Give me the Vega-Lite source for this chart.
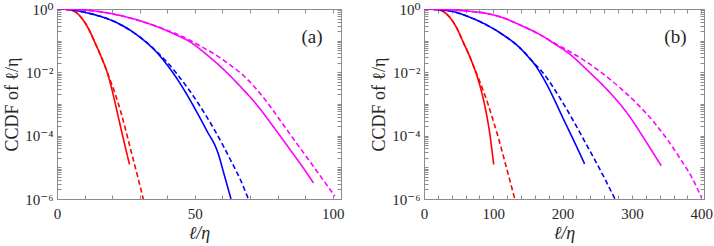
{
  "$schema": "https://vega.github.io/schema/vega-lite/v6.json",
  "padding": {"top": 1, "left": 3, "right": 4, "bottom": 0},
  "spacing": 25,
  "config": {
    "font": "Liberation Serif, DejaVu Serif, serif",
    "view": {"stroke": "#8c8c8c", "strokeWidth": 1},
    "axis": {"grid": false, "domainColor": "#8c8c8c", "tickColor": "#8c8c8c", "labelColor": "#262626", "titleColor": "#262626", "labelFont": "Liberation Serif, DejaVu Serif, serif", "titleFont": "Liberation Serif, DejaVu Serif, serif", "labelFontSize": 15, "titleFontSize": 18, "titleFontWeight": "normal", "labelFlush": false, "labelOverlap": false},
    "line": {"interpolate": "monotone", "strokeWidth": 1.6}
  },
  "datasets": {
    "curves": [
      {"panel":"a","color":"red","style":"solid","x":0,"y":1},
      {"panel":"a","color":"red","style":"solid","x":2,"y":0.99},
      {"panel":"a","color":"red","style":"solid","x":5.1,"y":0.933},
      {"panel":"a","color":"red","style":"solid","x":7.5,"y":0.708},
      {"panel":"a","color":"red","style":"solid","x":9.9,"y":0.398},
      {"panel":"a","color":"red","style":"solid","x":12,"y":0.19},
      {"panel":"a","color":"red","style":"solid","x":13.6,"y":0.0933},
      {"panel":"a","color":"red","style":"solid","x":15.5,"y":0.0398},
      {"panel":"a","color":"red","style":"solid","x":17.2,"y":0.0174},
      {"panel":"a","color":"red","style":"solid","x":18.2,"y":0.01},
      {"panel":"a","color":"red","style":"solid","x":19.2,"y":0.005},
      {"panel":"a","color":"red","style":"solid","x":20.5,"y":0.00178},
      {"panel":"a","color":"red","style":"solid","x":22.1,"y":4.37e-4},
      {"panel":"a","color":"red","style":"solid","x":24.2,"y":7.1e-5},
      {"panel":"a","color":"red","style":"solid","x":26.3,"y":1.23e-5},

      {"panel":"a","color":"red","style":"dashed","x":0,"y":1},
      {"panel":"a","color":"red","style":"dashed","x":2,"y":0.99},
      {"panel":"a","color":"red","style":"dashed","x":5.1,"y":0.933},
      {"panel":"a","color":"red","style":"dashed","x":7.5,"y":0.708},
      {"panel":"a","color":"red","style":"dashed","x":9.9,"y":0.398},
      {"panel":"a","color":"red","style":"dashed","x":12,"y":0.19},
      {"panel":"a","color":"red","style":"dashed","x":13.6,"y":0.0933},
      {"panel":"a","color":"red","style":"dashed","x":15.5,"y":0.0398},
      {"panel":"a","color":"red","style":"dashed","x":17.2,"y":0.0174},
      {"panel":"a","color":"red","style":"dashed","x":19,"y":0.0066},
      {"panel":"a","color":"red","style":"dashed","x":20.8,"y":0.00251},
      {"panel":"a","color":"red","style":"dashed","x":23.3,"y":5.0e-4},
      {"panel":"a","color":"red","style":"dashed","x":26.9,"y":3.16e-5},
      {"panel":"a","color":"red","style":"dashed","x":29,"y":6.3e-6},
      {"panel":"a","color":"red","style":"dashed","x":31.3,"y":1e-6},

      {"panel":"a","color":"blue","style":"solid","x":0,"y":1},
      {"panel":"a","color":"blue","style":"solid","x":5,"y":0.955},
      {"panel":"a","color":"blue","style":"solid","x":9.9,"y":0.794},
      {"panel":"a","color":"blue","style":"solid","x":16,"y":0.575},
      {"panel":"a","color":"blue","style":"solid","x":22.1,"y":0.355},
      {"panel":"a","color":"blue","style":"solid","x":26,"y":0.229},
      {"panel":"a","color":"blue","style":"solid","x":29.3,"y":0.145},
      {"panel":"a","color":"blue","style":"solid","x":33,"y":0.0794},
      {"panel":"a","color":"blue","style":"solid","x":36.3,"y":0.0417},
      {"panel":"a","color":"blue","style":"solid","x":39,"y":0.0219},
      {"panel":"a","color":"blue","style":"solid","x":42.1,"y":0.00955},
      {"panel":"a","color":"blue","style":"solid","x":45,"y":0.00398},
      {"panel":"a","color":"blue","style":"solid","x":48.1,"y":0.00141},
      {"panel":"a","color":"blue","style":"solid","x":51,"y":5.0e-4},
      {"panel":"a","color":"blue","style":"solid","x":54.2,"y":1.51e-4},
      {"panel":"a","color":"blue","style":"solid","x":58.4,"y":2.82e-5},
      {"panel":"a","color":"blue","style":"solid","x":60.7,"y":5.6e-6},
      {"panel":"a","color":"blue","style":"solid","x":63.1,"y":1e-6},

      {"panel":"a","color":"blue","style":"dashed","x":0,"y":1},
      {"panel":"a","color":"blue","style":"dashed","x":5,"y":0.955},
      {"panel":"a","color":"blue","style":"dashed","x":9.9,"y":0.794},
      {"panel":"a","color":"blue","style":"dashed","x":16,"y":0.575},
      {"panel":"a","color":"blue","style":"dashed","x":22.1,"y":0.355},
      {"panel":"a","color":"blue","style":"dashed","x":26,"y":0.229},
      {"panel":"a","color":"blue","style":"dashed","x":29.3,"y":0.145},
      {"panel":"a","color":"blue","style":"dashed","x":33,"y":0.0813},
      {"panel":"a","color":"blue","style":"dashed","x":36.3,"y":0.0437},
      {"panel":"a","color":"blue","style":"dashed","x":39.6,"y":0.0224},
      {"panel":"a","color":"blue","style":"dashed","x":44,"y":0.0079},
      {"panel":"a","color":"blue","style":"dashed","x":48.1,"y":0.00263},
      {"panel":"a","color":"blue","style":"dashed","x":51,"y":0.00112},
      {"panel":"a","color":"blue","style":"dashed","x":54.2,"y":4.07e-4},
      {"panel":"a","color":"blue","style":"dashed","x":57,"y":1.58e-4},
      {"panel":"a","color":"blue","style":"dashed","x":60.3,"y":4.79e-5},
      {"panel":"a","color":"blue","style":"dashed","x":63.3,"y":1.48e-5},
      {"panel":"a","color":"blue","style":"dashed","x":66.3,"y":4.47e-6},
      {"panel":"a","color":"blue","style":"dashed","x":69.4,"y":1e-6},

      {"panel":"a","color":"magenta","style":"solid","x":0,"y":1},
      {"panel":"a","color":"magenta","style":"solid","x":5,"y":0.985},
      {"panel":"a","color":"magenta","style":"solid","x":9.9,"y":0.933},
      {"panel":"a","color":"magenta","style":"solid","x":16,"y":0.81},
      {"panel":"a","color":"magenta","style":"solid","x":22.1,"y":0.646},
      {"panel":"a","color":"magenta","style":"solid","x":30,"y":0.427},
      {"panel":"a","color":"magenta","style":"solid","x":37.8,"y":0.245},
      {"panel":"a","color":"magenta","style":"solid","x":43,"y":0.155},
      {"panel":"a","color":"magenta","style":"solid","x":48.1,"y":0.0933},
      {"panel":"a","color":"magenta","style":"solid","x":54,"y":0.038},
      {"panel":"a","color":"magenta","style":"solid","x":60.3,"y":0.0126},
      {"panel":"a","color":"magenta","style":"solid","x":66,"y":0.00398},
      {"panel":"a","color":"magenta","style":"solid","x":72.4,"y":9.55e-4},
      {"panel":"a","color":"magenta","style":"solid","x":79,"y":1.66e-4},
      {"panel":"a","color":"magenta","style":"solid","x":85.7,"y":2.63e-5},
      {"panel":"a","color":"magenta","style":"solid","x":89.5,"y":9.1e-6},
      {"panel":"a","color":"magenta","style":"solid","x":93,"y":3.24e-6},

      {"panel":"a","color":"magenta","style":"dashed","x":0,"y":1},
      {"panel":"a","color":"magenta","style":"dashed","x":5,"y":0.985},
      {"panel":"a","color":"magenta","style":"dashed","x":9.9,"y":0.933},
      {"panel":"a","color":"magenta","style":"dashed","x":16,"y":0.81},
      {"panel":"a","color":"magenta","style":"dashed","x":22.1,"y":0.646},
      {"panel":"a","color":"magenta","style":"dashed","x":30,"y":0.427},
      {"panel":"a","color":"magenta","style":"dashed","x":37.8,"y":0.251},
      {"panel":"a","color":"magenta","style":"dashed","x":45,"y":0.141},
      {"panel":"a","color":"magenta","style":"dashed","x":52,"y":0.0676},
      {"panel":"a","color":"magenta","style":"dashed","x":59,"y":0.0295},
      {"panel":"a","color":"magenta","style":"dashed","x":63,"y":0.0166},
      {"panel":"a","color":"magenta","style":"dashed","x":67,"y":0.0089},
      {"panel":"a","color":"magenta","style":"dashed","x":71.5,"y":0.00355},
      {"panel":"a","color":"magenta","style":"dashed","x":76,"y":0.0012},
      {"panel":"a","color":"magenta","style":"dashed","x":80,"y":3.98e-4},
      {"panel":"a","color":"magenta","style":"dashed","x":84.5,"y":1.12e-4},
      {"panel":"a","color":"magenta","style":"dashed","x":92,"y":1.41e-5},
      {"panel":"a","color":"magenta","style":"dashed","x":100.8,"y":1.23e-6},

      {"panel":"b","color":"red","style":"solid","x":0,"y":1},
      {"panel":"b","color":"red","style":"solid","x":10,"y":0.993},
      {"panel":"b","color":"red","style":"solid","x":22.6,"y":0.933},
      {"panel":"b","color":"red","style":"solid","x":32,"y":0.708},
      {"panel":"b","color":"red","style":"solid","x":41.8,"y":0.398},
      {"panel":"b","color":"red","style":"solid","x":50,"y":0.19},
      {"panel":"b","color":"red","style":"solid","x":56.2,"y":0.0933},
      {"panel":"b","color":"red","style":"solid","x":64,"y":0.0398},
      {"panel":"b","color":"red","style":"solid","x":70.7,"y":0.0174},
      {"panel":"b","color":"red","style":"solid","x":80.3,"y":0.00407},
      {"panel":"b","color":"red","style":"solid","x":90,"y":5.0e-4},
      {"panel":"b","color":"red","style":"solid","x":95,"y":1.12e-4},
      {"panel":"b","color":"red","style":"solid","x":100.5,"y":1.23e-5},

      {"panel":"b","color":"red","style":"dashed","x":0,"y":1},
      {"panel":"b","color":"red","style":"dashed","x":10,"y":0.993},
      {"panel":"b","color":"red","style":"dashed","x":22.6,"y":0.933},
      {"panel":"b","color":"red","style":"dashed","x":32,"y":0.708},
      {"panel":"b","color":"red","style":"dashed","x":41.8,"y":0.398},
      {"panel":"b","color":"red","style":"dashed","x":50,"y":0.19},
      {"panel":"b","color":"red","style":"dashed","x":56.2,"y":0.0933},
      {"panel":"b","color":"red","style":"dashed","x":64,"y":0.0398},
      {"panel":"b","color":"red","style":"dashed","x":72,"y":0.0148},
      {"panel":"b","color":"red","style":"dashed","x":80.3,"y":0.00525},
      {"panel":"b","color":"red","style":"dashed","x":85.1,"y":0.00275},
      {"panel":"b","color":"red","style":"dashed","x":92,"y":0.00105},
      {"panel":"b","color":"red","style":"dashed","x":99.5,"y":3.16e-4},
      {"panel":"b","color":"red","style":"dashed","x":108,"y":7.6e-5},
      {"panel":"b","color":"red","style":"dashed","x":116.4,"y":1.58e-5},
      {"panel":"b","color":"red","style":"dashed","x":124,"y":3.8e-6},
      {"panel":"b","color":"red","style":"dashed","x":131,"y":1e-6},

      {"panel":"b","color":"blue","style":"solid","x":0,"y":1},
      {"panel":"b","color":"blue","style":"solid","x":20,"y":0.955},
      {"panel":"b","color":"blue","style":"solid","x":41.8,"y":0.832},
      {"panel":"b","color":"blue","style":"solid","x":65,"y":0.562},
      {"panel":"b","color":"blue","style":"solid","x":90,"y":0.316},
      {"panel":"b","color":"blue","style":"solid","x":115,"y":0.148},
      {"panel":"b","color":"blue","style":"solid","x":138,"y":0.0603},
      {"panel":"b","color":"blue","style":"solid","x":150,"y":0.0316},
      {"panel":"b","color":"blue","style":"solid","x":160,"y":0.0174},
      {"panel":"b","color":"blue","style":"solid","x":170,"y":0.00794},
      {"panel":"b","color":"blue","style":"solid","x":180,"y":0.00316},
      {"panel":"b","color":"blue","style":"solid","x":190,"y":0.00112},
      {"panel":"b","color":"blue","style":"solid","x":200,"y":3.8e-4},
      {"panel":"b","color":"blue","style":"solid","x":212.5,"y":1.02e-4},
      {"panel":"b","color":"blue","style":"solid","x":222,"y":3.7e-5},
      {"panel":"b","color":"blue","style":"solid","x":231.7,"y":1.29e-5},

      {"panel":"b","color":"blue","style":"dashed","x":0,"y":1},
      {"panel":"b","color":"blue","style":"dashed","x":20,"y":0.955},
      {"panel":"b","color":"blue","style":"dashed","x":41.8,"y":0.832},
      {"panel":"b","color":"blue","style":"dashed","x":65,"y":0.562},
      {"panel":"b","color":"blue","style":"dashed","x":90,"y":0.316},
      {"panel":"b","color":"blue","style":"dashed","x":115,"y":0.148},
      {"panel":"b","color":"blue","style":"dashed","x":138,"y":0.0603},
      {"panel":"b","color":"blue","style":"dashed","x":150,"y":0.0324},
      {"panel":"b","color":"blue","style":"dashed","x":160,"y":0.0182},
      {"panel":"b","color":"blue","style":"dashed","x":170,"y":0.0107},
      {"panel":"b","color":"blue","style":"dashed","x":178,"y":0.0063},
      {"panel":"b","color":"blue","style":"dashed","x":186,"y":0.00347},
      {"panel":"b","color":"blue","style":"dashed","x":194.7,"y":0.00174},
      {"panel":"b","color":"blue","style":"dashed","x":205,"y":7.4e-4},
      {"panel":"b","color":"blue","style":"dashed","x":217.3,"y":2.51e-4},
      {"panel":"b","color":"blue","style":"dashed","x":231,"y":7.1e-5},
      {"panel":"b","color":"blue","style":"dashed","x":246.1,"y":1.78e-5},
      {"panel":"b","color":"blue","style":"dashed","x":261,"y":4.3e-6},
      {"panel":"b","color":"blue","style":"dashed","x":275.5,"y":1e-6},

      {"panel":"b","color":"magenta","style":"solid","x":0,"y":1},
      {"panel":"b","color":"magenta","style":"solid","x":20,"y":0.985},
      {"panel":"b","color":"magenta","style":"solid","x":41.8,"y":0.933},
      {"panel":"b","color":"magenta","style":"solid","x":65,"y":0.85},
      {"panel":"b","color":"magenta","style":"solid","x":90,"y":0.724},
      {"panel":"b","color":"magenta","style":"solid","x":115,"y":0.52},
      {"panel":"b","color":"magenta","style":"solid","x":138,"y":0.316},
      {"panel":"b","color":"magenta","style":"solid","x":165,"y":0.166},
      {"panel":"b","color":"magenta","style":"solid","x":188.5,"y":0.0794},
      {"panel":"b","color":"magenta","style":"solid","x":210,"y":0.038},
      {"panel":"b","color":"magenta","style":"solid","x":236.5,"y":0.0112},
      {"panel":"b","color":"magenta","style":"solid","x":260,"y":0.00355},
      {"panel":"b","color":"magenta","style":"solid","x":272,"y":0.00186},
      {"panel":"b","color":"magenta","style":"solid","x":284.6,"y":8.9e-4},
      {"panel":"b","color":"magenta","style":"solid","x":300,"y":3.16e-4},
      {"panel":"b","color":"magenta","style":"solid","x":315.8,"y":9.3e-5},
      {"panel":"b","color":"magenta","style":"solid","x":330,"y":3.0e-5},
      {"panel":"b","color":"magenta","style":"solid","x":342.3,"y":1.12e-5},

      {"panel":"b","color":"magenta","style":"dashed","x":0,"y":1},
      {"panel":"b","color":"magenta","style":"dashed","x":20,"y":0.985},
      {"panel":"b","color":"magenta","style":"dashed","x":41.8,"y":0.933},
      {"panel":"b","color":"magenta","style":"dashed","x":65,"y":0.85},
      {"panel":"b","color":"magenta","style":"dashed","x":90,"y":0.724},
      {"panel":"b","color":"magenta","style":"dashed","x":115,"y":0.52},
      {"panel":"b","color":"magenta","style":"dashed","x":138,"y":0.316},
      {"panel":"b","color":"magenta","style":"dashed","x":165,"y":0.166},
      {"panel":"b","color":"magenta","style":"dashed","x":188.5,"y":0.0832},
      {"panel":"b","color":"magenta","style":"dashed","x":210,"y":0.0457},
      {"panel":"b","color":"magenta","style":"dashed","x":236.5,"y":0.02},
      {"panel":"b","color":"magenta","style":"dashed","x":258,"y":0.0091},
      {"panel":"b","color":"magenta","style":"dashed","x":284.6,"y":0.003},
      {"panel":"b","color":"magenta","style":"dashed","x":310,"y":8.9e-4},
      {"panel":"b","color":"magenta","style":"dashed","x":332.7,"y":2.51e-4},
      {"panel":"b","color":"magenta","style":"dashed","x":352,"y":7.1e-5},
      {"panel":"b","color":"magenta","style":"dashed","x":371.2,"y":1.66e-5},
      {"panel":"b","color":"magenta","style":"dashed","x":386,"y":5.0e-6},
      {"panel":"b","color":"magenta","style":"dashed","x":400.5,"y":1.1e-6}
    ],
    "labels": [
      {"panel":"a","x":92.5,"y":0.126,"label":"(a)"},
      {"panel":"b","x":362.7,"y":0.126,"label":"(b)"}
    ]
  },
  "hconcat": [
    {
      "width": 284,
      "height": 190,
      "layer": [
        {
          "data": {"name": "curves"},
          "transform": [{"filter": "datum.panel == 'a'"}],
          "mark": {"type": "line", "clip": true},
          "encoding": {
            "x": {"field": "x", "type": "quantitative", "scale": {"domain": [0, 103], "nice": false},
                  "axis": {"orient": "bottom", "values": [0,10,20,30,40,50,60,70,80,90,100], "labelExpr": "datum.value % 50 === 0 ? format(datum.value, 'd') : ''", "tickSize": -4, "labelPadding": 11, "title": "ℓ/η", "titleFontStyle": "italic", "titlePadding": 3}},
            "y": {"field": "y", "type": "quantitative", "scale": {"type": "log", "domain": [1e-6, 1], "nice": false},
                  "axis": {"orient": "left", "values": [1e-6,2e-6,3e-6,4e-6,5e-6,6e-6,7e-6,8e-6,9e-6,1e-5,2e-5,3e-5,4e-5,5e-5,6e-5,7e-5,8e-5,9e-5,1e-4,2e-4,3e-4,4e-4,5e-4,6e-4,7e-4,8e-4,9e-4,0.001,0.002,0.003,0.004,0.005,0.006,0.007,0.008,0.009,0.01,0.02,0.03,0.04,0.05,0.06,0.07,0.08,0.09,0.1,0.2,0.3,0.4,0.5,0.6,0.7,0.8,0.9,1],
                           "labelExpr": "datum.value == 1 ? '10⁰' : datum.value == 0.01 ? '10⁻²' : datum.value == 0.0001 ? '10⁻⁴' : datum.value == 0.000001 ? '10⁻⁶' : ''",
                           "tickSize": -4, "labelPadding": 8, "title": "CCDF of ℓ/η", "titlePadding": 3}},
            "color": {"field": "color", "type": "nominal", "scale": {"domain": ["red", "blue", "magenta"], "range": ["#ff0000", "#0000ff", "#ff00ff"]}, "legend": null},
            "strokeDash": {"field": "style", "type": "nominal", "scale": {"domain": ["solid", "dashed"], "range": [[1, 0], [5, 3]]}, "legend": null}
          }
        },
        {
          "data": {"name": "curves"},
          "transform": [{"filter": "datum.panel == 'a'"}],
          "mark": {"type": "line", "strokeOpacity": 0},
          "encoding": {
            "x": {"field": "x", "type": "quantitative", "axis": {"orient": "top", "values": [0,10,20,30,40,50,60,70,80,90,100], "labels": false, "tickSize": -4, "title": null}},
            "y": {"field": "y", "type": "quantitative", "axis": {"orient": "right", "values": [1e-6,2e-6,3e-6,4e-6,5e-6,6e-6,7e-6,8e-6,9e-6,1e-5,2e-5,3e-5,4e-5,5e-5,6e-5,7e-5,8e-5,9e-5,1e-4,2e-4,3e-4,4e-4,5e-4,6e-4,7e-4,8e-4,9e-4,0.001,0.002,0.003,0.004,0.005,0.006,0.007,0.008,0.009,0.01,0.02,0.03,0.04,0.05,0.06,0.07,0.08,0.09,0.1,0.2,0.3,0.4,0.5,0.6,0.7,0.8,0.9,1], "labels": false, "tickSize": -4, "title": null}},
            "detail": {"field": "color"}
          }
        },
        {
          "data": {"name": "labels"},
          "transform": [{"filter": "datum.panel == 'a'"}],
          "mark": {"type": "text", "fontSize": 19, "font": "Liberation Serif, DejaVu Serif, serif", "color": "#262626", "align": "center", "baseline": "middle"},
          "encoding": {
            "x": {"field": "x", "type": "quantitative", "axis": null},
            "y": {"field": "y", "type": "quantitative", "axis": null},
            "text": {"field": "label"}
          }
        }
      ],
      "resolve": {"axis": {"x": "independent", "y": "independent"}}
    },
    {
      "width": 280,
      "height": 190,
      "layer": [
        {
          "data": {"name": "curves"},
          "transform": [{"filter": "datum.panel == 'b'"}],
          "mark": {"type": "line", "clip": true},
          "encoding": {
            "x": {"field": "x", "type": "quantitative", "scale": {"domain": [0, 404], "nice": false},
                  "axis": {"orient": "bottom", "values": [0,20,40,60,80,100,120,140,160,180,200,220,240,260,280,300,320,340,360,380,400], "labelExpr": "datum.value % 100 === 0 ? format(datum.value, 'd') : ''", "tickSize": -4, "labelPadding": 11, "title": "ℓ/η", "titleFontStyle": "italic", "titlePadding": 3}},
            "y": {"field": "y", "type": "quantitative", "scale": {"type": "log", "domain": [1e-6, 1], "nice": false},
                  "axis": {"orient": "left", "values": [1e-6,2e-6,3e-6,4e-6,5e-6,6e-6,7e-6,8e-6,9e-6,1e-5,2e-5,3e-5,4e-5,5e-5,6e-5,7e-5,8e-5,9e-5,1e-4,2e-4,3e-4,4e-4,5e-4,6e-4,7e-4,8e-4,9e-4,0.001,0.002,0.003,0.004,0.005,0.006,0.007,0.008,0.009,0.01,0.02,0.03,0.04,0.05,0.06,0.07,0.08,0.09,0.1,0.2,0.3,0.4,0.5,0.6,0.7,0.8,0.9,1],
                           "labelExpr": "datum.value == 1 ? '10⁰' : datum.value == 0.01 ? '10⁻²' : datum.value == 0.0001 ? '10⁻⁴' : datum.value == 0.000001 ? '10⁻⁶' : ''",
                           "tickSize": -4, "labelPadding": 8, "title": "CCDF of ℓ/η", "titlePadding": 3}},
            "color": {"field": "color", "type": "nominal", "scale": {"domain": ["red", "blue", "magenta"], "range": ["#ff0000", "#0000ff", "#ff00ff"]}, "legend": null},
            "strokeDash": {"field": "style", "type": "nominal", "scale": {"domain": ["solid", "dashed"], "range": [[1, 0], [5, 3]]}, "legend": null}
          }
        },
        {
          "data": {"name": "curves"},
          "transform": [{"filter": "datum.panel == 'b'"}],
          "mark": {"type": "line", "strokeOpacity": 0},
          "encoding": {
            "x": {"field": "x", "type": "quantitative", "axis": {"orient": "top", "values": [0,20,40,60,80,100,120,140,160,180,200,220,240,260,280,300,320,340,360,380,400], "labels": false, "tickSize": -4, "title": null}},
            "y": {"field": "y", "type": "quantitative", "axis": {"orient": "right", "values": [1e-6,2e-6,3e-6,4e-6,5e-6,6e-6,7e-6,8e-6,9e-6,1e-5,2e-5,3e-5,4e-5,5e-5,6e-5,7e-5,8e-5,9e-5,1e-4,2e-4,3e-4,4e-4,5e-4,6e-4,7e-4,8e-4,9e-4,0.001,0.002,0.003,0.004,0.005,0.006,0.007,0.008,0.009,0.01,0.02,0.03,0.04,0.05,0.06,0.07,0.08,0.09,0.1,0.2,0.3,0.4,0.5,0.6,0.7,0.8,0.9,1], "labels": false, "tickSize": -4, "title": null}},
            "detail": {"field": "color"}
          }
        },
        {
          "data": {"name": "labels"},
          "transform": [{"filter": "datum.panel == 'b'"}],
          "mark": {"type": "text", "fontSize": 19, "font": "Liberation Serif, DejaVu Serif, serif", "color": "#262626", "align": "center", "baseline": "middle"},
          "encoding": {
            "x": {"field": "x", "type": "quantitative", "axis": null},
            "y": {"field": "y", "type": "quantitative", "axis": null},
            "text": {"field": "label"}
          }
        }
      ],
      "resolve": {"axis": {"x": "independent", "y": "independent"}}
    }
  ]
}
